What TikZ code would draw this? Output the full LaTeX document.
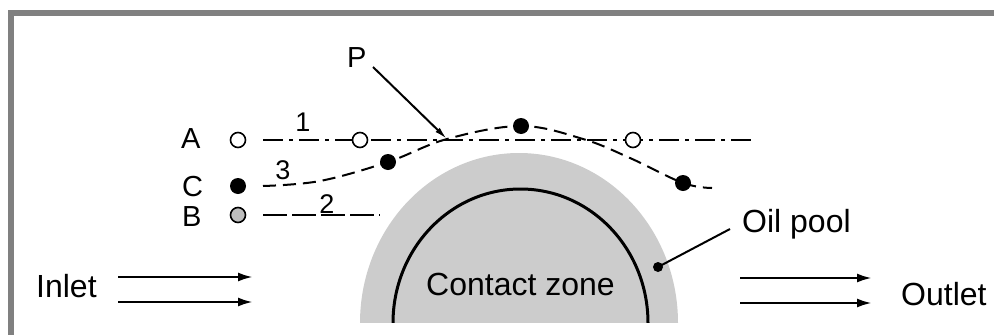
\documentclass[tikz,border=0pt]{standalone}
\usepackage{fontspec}
\setmainfont{Liberation Sans}
\usetikzlibrary{arrows.meta}
\definecolor{framegray}{RGB}{128,128,128}
\definecolor{oilgray}{RGB}{204,204,204}
\definecolor{dotgray}{RGB}{190,190,190}
\begin{document}
\begin{tikzpicture}[x=1pt,y=-1pt,
  bigtxt/.style={inner sep=0pt,font=\fontsize{32}{32}\selectfont},
  lettxt/.style={inner sep=0pt,font=\fontsize{29}{29}\selectfont},
  digtxt/.style={inner sep=0pt,font=\fontsize{27}{27}\selectfont},
  opendot/.style={circle,draw=black,fill=white,line width=1.6pt,minimum size=15pt,inner sep=0pt},
  fulldot/.style={circle,fill=black,minimum size=16pt,inner sep=0pt},
  graydot/.style={circle,draw=black,fill=dotgray,line width=1.6pt,minimum size=15pt,inner sep=0pt},
  smalldot/.style={circle,fill=black,minimum size=10pt,inner sep=0pt},
  dashdotline/.style={line width=2pt,dash pattern=on 20pt off 6pt on 4pt off 6pt},
  curveline/.style={line width=2pt,dash pattern=on 13pt off 7pt},
  longdash/.style={line width=2pt,dash pattern=on 24pt off 5pt},
  flow/.style={line width=2.5pt,-{Latex[length=15pt,width=9pt]}},
  leader/.style={line width=2pt}]
\useasboundingbox (0,0) rectangle (994,335);
% frame
\fill[framegray] (8,10) rectangle (994,16);
\fill[framegray] (8,10) rectangle (14,335);
% oil pool and contact zone
\fill[oilgray] (360,323) arc[start angle=180,end angle=0,x radius=159pt,y radius=170pt] -- cycle;
\draw[line width=3pt] (393,323) arc[start angle=180,end angle=0,x radius=127.5pt,y radius=134pt];
\fill[white] (340,323) rectangle (700,335);
\node[bigtxt,anchor=base west] (contact) at (426,295) {Contact zone};
% labels A C B
\node[lettxt,anchor=base west] (lA) at (181,148) {A};
\node[lettxt,anchor=base west] (lC) at (182,196) {C};
\node[lettxt,anchor=base west] (lB) at (182,226) {B};
% line 1
\coordinate (a0) at (263,140);
\coordinate (a1) at (752,140);
\draw[dashdotline] (a0) -- (a1);
% line 2
\coordinate (b0) at (263,215);
\coordinate (b1) at (380,215);
\draw[longdash] (b0) -- (b1);
% curve 3
\coordinate (c0) at (263,186);
\coordinate (c1) at (320,181);
\coordinate (c2) at (388,162);
\coordinate (c3) at (447,139);
\coordinate (c4) at (521,126);
\coordinate (c5) at (583,139);
\coordinate (c6) at (630,158);
\coordinate (c7) at (683,183);
\coordinate (c8) at (712,188);
\draw[curveline] plot[smooth,tension=0.6] coordinates {(c0) (c1) (c2) (c3) (c4) (c5) (c6) (c7) (c8)};
% dots
\node[opendot] (dA) at (238,140) {};
\node[fulldot] (dC) at (238,186) {};
\node[graydot] (dB) at (238,215) {};
\node[opendot] (oA1) at (360,140) {};
\node[opendot] (oA2) at (633,140) {};
\node[fulldot] (fC1) at (c2) {};
\node[fulldot] (fC2) at (c4) {};
\node[fulldot] (fC3) at (c7) {};
% numbers
\node[digtxt,anchor=base] (n1) at (303,131) {1};
\node[digtxt,anchor=base] (n3) at (283,179) {3};
\node[digtxt,anchor=base] (n2) at (327,213) {2};
% P
\node[lettxt,anchor=base west] (lP) at (347,67) {P};
\coordinate (pstart) at (373,67);
\draw[line width=2pt,-{Latex[length=13pt,width=6pt]}] (pstart) -- (c3);
% oil pool
\node[bigtxt,anchor=base west] (oil) at (742,232) {Oil pool};
\node[smalldot] (oildot) at (658,267) {};
\coordinate (oilend) at (730,229);
\draw[leader] (oildot.center) -- (oilend);
% inlet / outlet
\node[bigtxt,anchor=base west] (inlet) at (36,297) {Inlet};
\coordinate (i1s) at (118,277); \coordinate (i1e) at (253,277);
\coordinate (i2s) at (118,302); \coordinate (i2e) at (253,302);
\draw[flow] (i1s) -- (i1e);
\draw[flow] (i2s) -- (i2e);
\node[bigtxt,anchor=base west] (outlet) at (901,305) {Outlet};
\coordinate (o1s) at (740,278); \coordinate (o1e) at (872,278);
\coordinate (o2s) at (740,303); \coordinate (o2e) at (872,303);
\draw[flow] (o1s) -- (o1e);
\draw[flow] (o2s) -- (o2e);
\end{tikzpicture}
\end{document}
